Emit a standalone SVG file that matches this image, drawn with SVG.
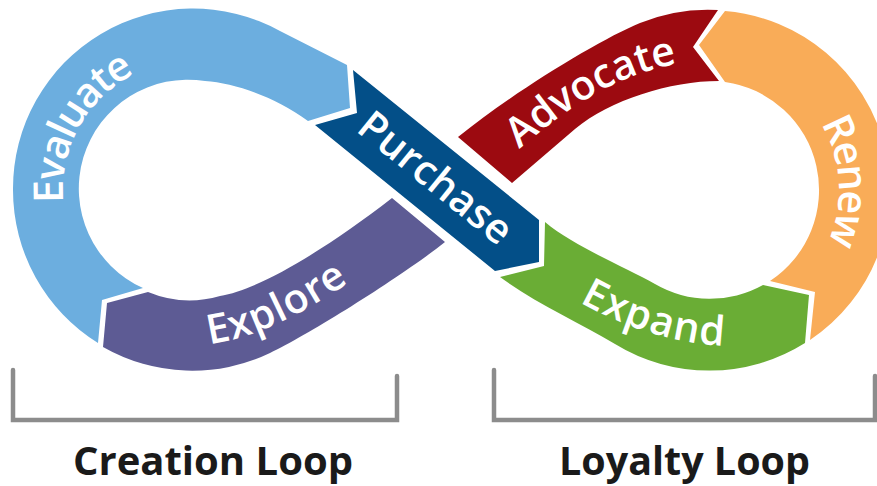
<svg xmlns="http://www.w3.org/2000/svg" width="877" height="486" viewBox="0 0 877 486">
<style>
.lbl{font-family:"Open Sans","Liberation Sans",Arial,sans-serif;font-weight:600;font-size:41px;fill:#ffffff}
.loop{font-family:"Open Sans","Liberation Sans",Arial,sans-serif;font-weight:700;font-size:39px;fill:#1a1a1a}
.br{fill:none;stroke:#8c8c8c;stroke-width:4.5;stroke-linecap:round;stroke-linejoin:miter}
</style>
<defs>
<path id="tp-eval" d="M81.6,257 A130,130 0 0 1 190.7,60"/>
<path id="tp-expl" d="M136,338.5 C206,358.5 278.6,341 408.6,239"/>
<path id="tp-expa" d="M521.3,262.9 C581.3,310.9 683.3,365.6 793.3,338.6"/>
<path id="tp-renw" d="M767,74 A129,129 0 0 1 780,298"/>
<path id="tp-advo" d="M478.8,182.9 C548.8,125.9 610,59 730,59"/>
</defs>
<rect width="877" height="486" fill="#ffffff"/>
<g id="explore">
<path fill="#5d5b94" d="M103,347 A180,180 0 0 0 270,353 C310,334 405,274 445,242 L392,198 C330,246 262,289 220,296 A109,109 0 0 1 148,292 L107,303 Z"/>
<text class="lbl" text-anchor="middle"><textPath href="#tp-expl" startOffset="50%" textLength="154" lengthAdjust="spacing">Explore</textPath></text>
</g>
<g id="evaluate">
<path fill="#6caedf" d="M98,343 A180,180 0 0 1 13,190 A180,180 0 0 1 280,31 L347,65 L350,108 L308,121 C275,97 235,83 205,81 A109,109 0 0 0 143,288 L102,300 Z"/>
<text class="lbl" text-anchor="middle"><textPath href="#tp-eval" startOffset="50%" textLength="157" lengthAdjust="spacing">Evaluate</textPath></text>
</g>
<g id="advocate">
<path fill="#9c0a10" d="M512,183 L575,129 C610,100 670,81 719,81 L693,47 L718,10 A180,180 0 0 0 640,23 C600,39.5 515,91 458,137 Z"/>
<text class="lbl" text-anchor="middle"><textPath href="#tp-advo" startOffset="50%" textLength="182" lengthAdjust="spacing">Advocate</textPath></text>
</g>
<g id="purchase">
<path fill="#034f88" d="M353,70 L539,220 L539,262 L495,271 L315,125 L357,113 Z"/>
<text class="lbl" x="426.8" y="188.6" text-anchor="middle" transform="rotate(39 426.8 188.6)" textLength="185" lengthAdjust="spacing">Purchase</text>
</g>
<g id="expand">
<path fill="#6aad35" d="M545,222 C575,247 625,267 655,284 A109,109 0 0 0 763,285 L809,295 L805,343 A180,180 0 0 1 615,344 C580,323 535,303 500,277 L544,266 Z"/>
<text class="lbl" text-anchor="middle"><textPath href="#tp-expa" startOffset="50%" textLength="152" lengthAdjust="spacing">Expand</textPath></text>
</g>
<g id="renew">
<path fill="#f9ac58" d="M725,11 A180,180 0 0 1 810,340 L815,292 L770,281 A109,109 0 0 0 725,82 L699,45 Z"/>
<text class="lbl" text-anchor="middle"><textPath href="#tp-renw" startOffset="50%" textLength="124" lengthAdjust="spacing">Renew</textPath></text>
</g>
<g id="connectors">
<path class="br" d="M13,370 V420 H397 V376"/>
<path class="br" d="M494,370 V420 H875 V376"/>
</g>
<g id="creation-loop">
<text class="loop" x="213" y="475" text-anchor="middle" textLength="280" lengthAdjust="spacingAndGlyphs">Creation Loop</text>
</g>
<g id="loyalty-loop">
<text class="loop" x="684.5" y="475" text-anchor="middle" textLength="251" lengthAdjust="spacingAndGlyphs">Loyalty Loop</text>
</g>
</svg>
